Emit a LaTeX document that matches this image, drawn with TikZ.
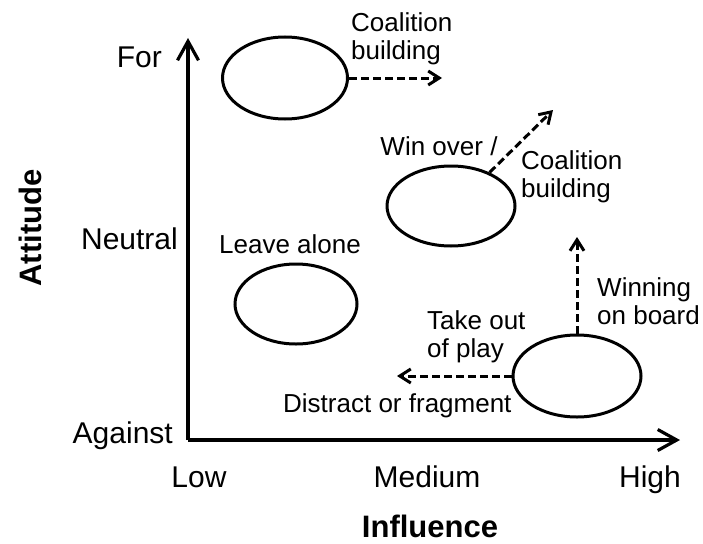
\documentclass[tikz,border=0pt]{standalone}
\usepackage{fontspec}
\setmainfont{Liberation Sans}
\usetikzlibrary{shapes.geometric,arrows.meta}
\begin{document}
\begin{tikzpicture}[x=1pt,y=-1pt,
  oval/.style={draw,ellipse,line width=3pt,inner sep=0pt},
  axisline/.style={line width=3.2pt,-{Straight Barb[length=19pt,width=21pt,line width=3.2pt]}},
  move/.style={line width=3pt,dash pattern=on 8pt off 4pt,
    -{Straight Barb[length=11pt,width=14pt,line width=3pt]}},
  note/.style={font=\fontsize{26}{28}\selectfont,inner sep=0pt,align=left},
  tick/.style={font=\fontsize{30}{34}\selectfont,inner sep=0pt},
  title/.style={font=\fontsize{31}{34}\selectfont\bfseries,inner sep=0pt}
]
\useasboundingbox (0,0) rectangle (703,543);

% axes
\coordinate (origin) at (188,440);
\coordinate (ytip) at (188,38);
\coordinate (xtip) at (680,440);
\draw[axisline] (origin) -- (ytip);
\draw[axisline] (origin) -- (xtip);

% axis labels
\node[tick,anchor=base east] (for) at (162,67) {For};
\node[tick,anchor=base east] (neutral) at (178,249) {Neutral};
\node[tick,anchor=base east] (against) at (173,443) {Against};
\node[tick,anchor=base] (low) at (199,487) {Low};
\node[tick,anchor=base] (medium) at (427,487) {Medium};
\node[tick,anchor=base] (high) at (650,487) {High};
\node[title,anchor=base] (influence) at (430,537) {Influence};
\node[title,rotate=90,anchor=base] (attitude) at (41,228) {Attitude};

% stakeholder groups
\node[oval,minimum width=125pt,minimum height=82pt] (e1) at (285,78) {};
\node[oval,minimum width=128pt,minimum height=80pt] (e2) at (451,206) {};
\node[oval,minimum width=122pt,minimum height=80pt] (e3) at (296,304) {};
\node[oval,minimum width=128pt,minimum height=82pt] (e4) at (577,376) {};

% strategies
\coordinate (t1) at (442,78);
\coordinate (t2) at (553,110);
\coordinate (t3) at (577,237);
\coordinate (t4) at (397,376);
\draw[move] (e1.east) -- (t1);
\draw[move] (e2.41) -- (t2);
\draw[move] (e4.north) -- (t3);
\draw[move] (e4.west) -- (t4);

\node[note,anchor=west] (coal1) at (351,39) {Coalition\\building};
\node[note,anchor=base] (win) at (439,155) {Win over /};
\node[note,anchor=west] (coal2) at (521,177) {Coalition\\building};
\node[note,anchor=base] (leave) at (290,253) {Leave alone};
\node[note,anchor=west] (winning) at (597,301) {Winning\\on board};
\node[note,anchor=west] (takeout) at (427,337) {Take out\\of play};
\node[note,anchor=base west] (distract) at (283,412) {Distract or fragment};
\end{tikzpicture}
\end{document}
